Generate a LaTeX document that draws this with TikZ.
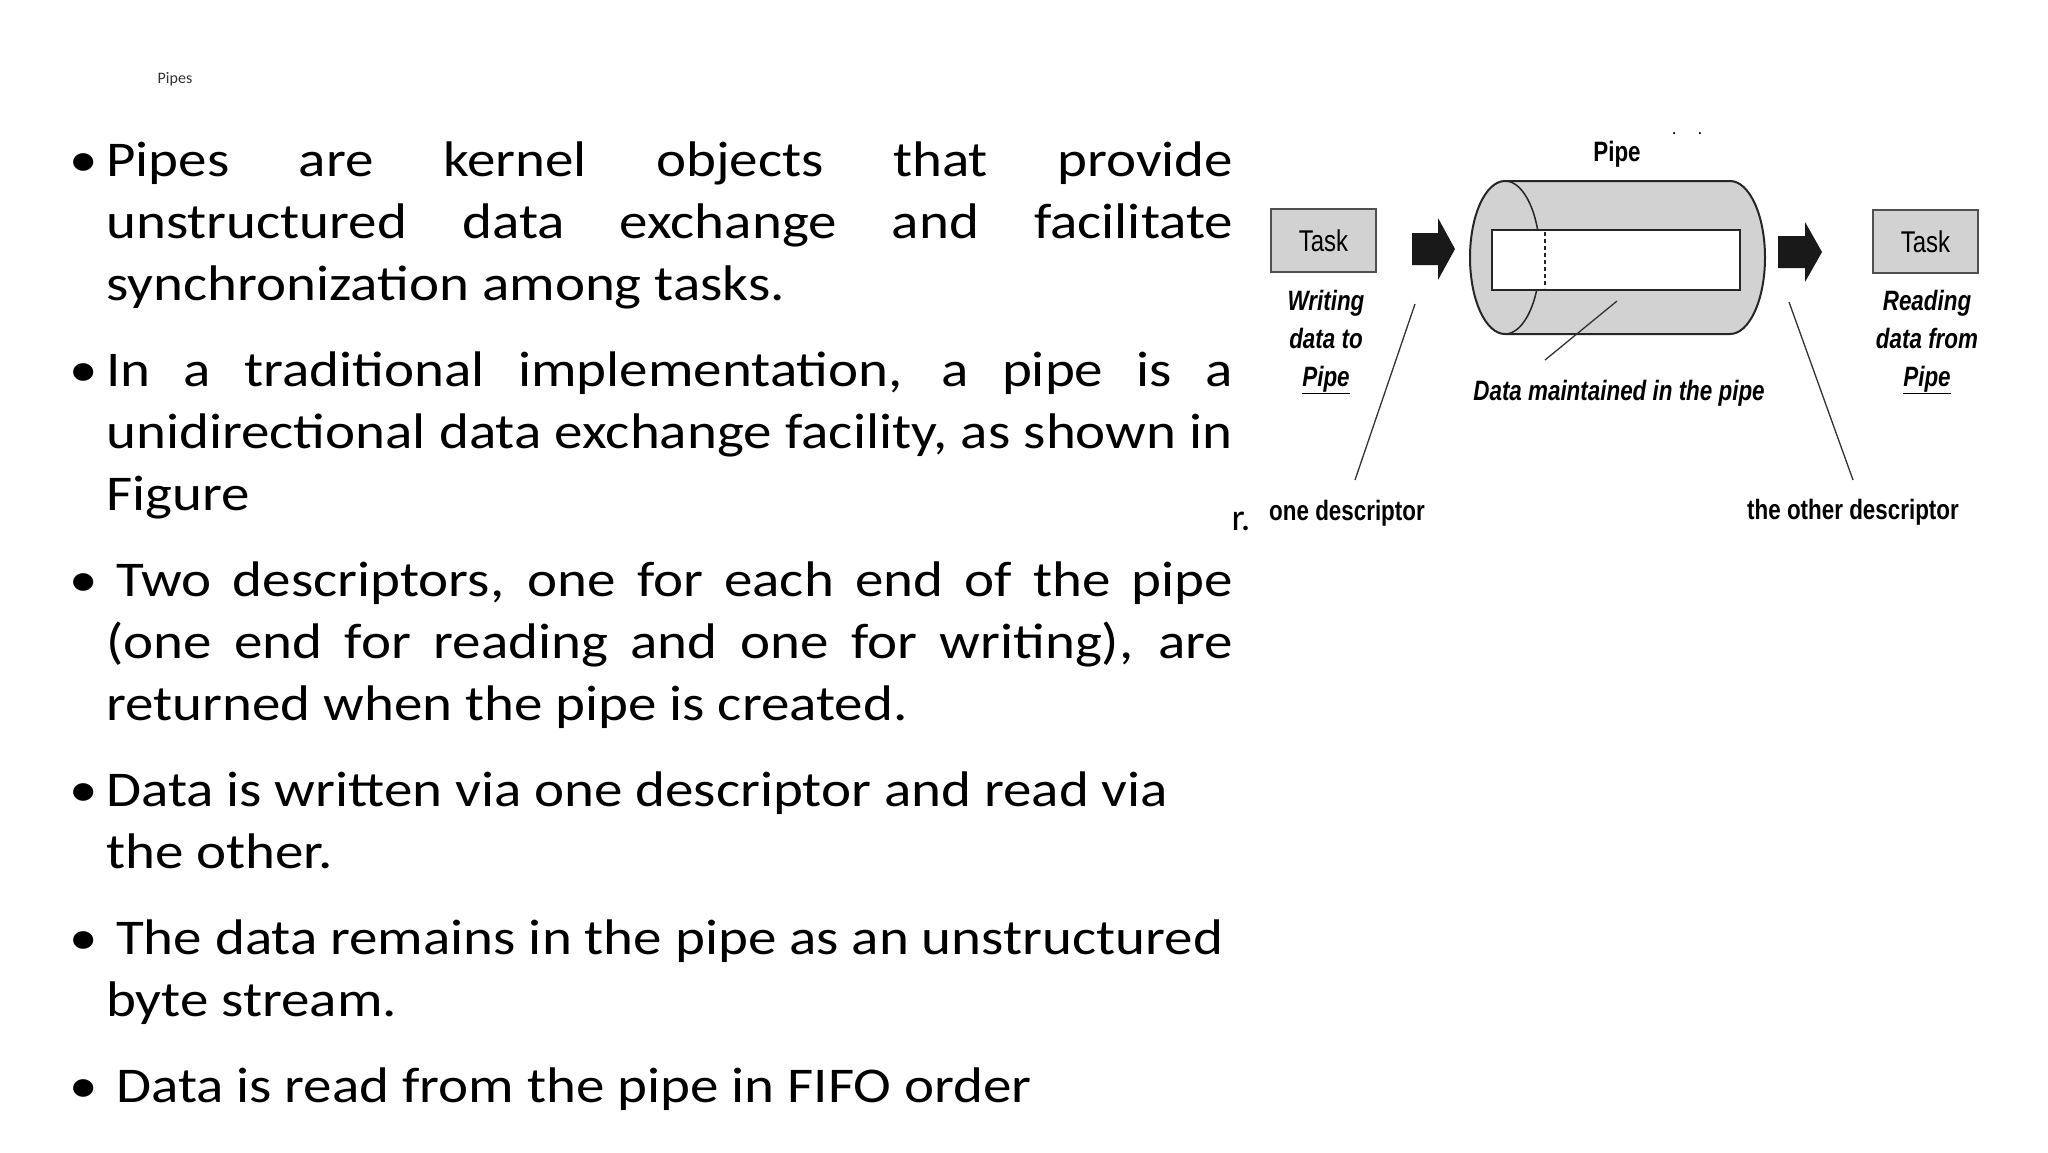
\documentclass[tikz,border=0pt]{standalone}
\usepackage{fontspec}
\setmainfont{Carlito}
\newfontfamily\dfont{Liberation Sans}[FakeStretch=0.8]
\usetikzlibrary{calc}
\definecolor{boxgray}{HTML}{D2D2D2}
\definecolor{edgegray}{HTML}{505050}
\newcommand{\bul}[1]{\par\noindent\hangindent=37pt\hangafter=1\makebox[37pt][l]{\textbullet}#1\par\vspace{24pt}}
\begin{document}
\begin{tikzpicture}[x=1pt,y=-1pt,
  task/.style={draw=edgegray,line width=2.5pt,fill=boxgray,minimum width=105pt,minimum height=63pt,inner sep=0,font=\dfont\fontsize{30}{30}\selectfont},
  lab/.style={font=\dfont\bfseries\itshape\fontsize{28}{38}\selectfont,align=center,inner sep=0},
  dlab/.style={font=\dfont\bfseries\fontsize{28}{30}\selectfont,inner sep=0},
  bigarrow/.style={fill=black!90},
  lead/.style={draw=black!80,line width=1.3pt}]
\useasboundingbox (0,0) rectangle (2048,1152);
\fill[white] (0,0) rectangle (2048,1152);
\node[font=\fontsize{16}{16}\selectfont,text=black!80] (title) at (175,79) {Pipes};
\node[anchor=north west,inner sep=0] (body) at (69,142) {\begin{minipage}[t]{1164pt}\fontsize{50}{62}\selectfont\addfontfeature{FakeStretch=1.14}
\bul{Pipes are kernel objects that provide\linebreak unstructured data exchange and facilitate\linebreak synchronization among tasks.}
\bul{In a traditional implementation, a pipe is a\linebreak unidirectional data exchange facility, as shown in\linebreak Figure}
\bul{\hspace{10pt}Two descriptors, one for each end of the pipe\linebreak (one end for reading and one for writing), are\linebreak returned when the pipe is created.}
\bul{Data is written via one descriptor and read via\newline the other.}
\bul{\hspace{10pt}The data remains in the pipe as an unstructured\newline byte stream.}
\bul{\hspace{10pt}Data is read from the pipe in FIFO order}
\end{minipage}};
% diagram
\node[task] (t1) at (1323.5,240.5) {Task};
\node[task] (t2) at (1925.5,241.5) {Task};
\fill[bigarrow] (1412,233) -- (1438,233) -- (1438,218) -- (1455,249) -- (1438,280) -- (1438,265) -- (1412,265) -- cycle;
\fill[bigarrow] (1778,236) -- (1805,236) -- (1805,222) -- (1822,252) -- (1805,282) -- (1805,268) -- (1778,268) -- cycle;
% cylinder (local upward y)
\begin{scope}[y=1pt]
\path[draw=black!85,line width=2pt,fill=boxgray] (1505,-181) -- (1730,-181) arc[start angle=90,end angle=-90,x radius=35,y radius=76.5] -- (1505,-334) arc[start angle=270,end angle=90,x radius=35,y radius=76.5] -- cycle;
\draw[black!85,line width=1.5pt] (1505,-181) arc[start angle=90,end angle=-90,x radius=35,y radius=76.5];
\end{scope}
\node[draw=black!85,line width=2.5pt,fill=white,minimum width=248pt,minimum height=60pt,inner sep=0] (data) at (1616,260) {};
\draw[black!85,line width=1.5pt,dash pattern=on 4pt off 3pt] (1545,232) -- (1545,288);
\node[font=\dfont\bfseries\fontsize{28}{30}\selectfont] (pipe) at (1617,154) {Pipe};
\node[font=\bfseries\fontsize{14}{14}\selectfont] (dots) at (1687,134) {.\hspace{22pt}.};
\node[lab] (w) at (1326,342) {Writing\\data to\\\underline{Pipe}};
\node[lab] (r) at (1927,342) {Reading\\data from\\\underline{Pipe}};
\node[lab] (dm) at (1619,393) {Data maintained in the pipe};
\coordinate (dmA) at (1617,301);
\coordinate (dmB) at (1545,360);
\draw[lead] (dmA) -- (dmB);
\node[dlab] (d1) at (1347,513) {one descriptor};
\node[dlab] (d2) at (1853,512) {the other descriptor};
\node[font=\rmfamily\fontsize{38}{38}\selectfont,inner sep=0] (r2) at (1241,521) {r.};
\coordinate (l1) at (1415,304);
\coordinate (l2) at (1789,302);
\draw[lead] (l1) -- (1355,480);
\draw[lead] (l2) -- (1853,480);
\end{tikzpicture}
\end{document}
